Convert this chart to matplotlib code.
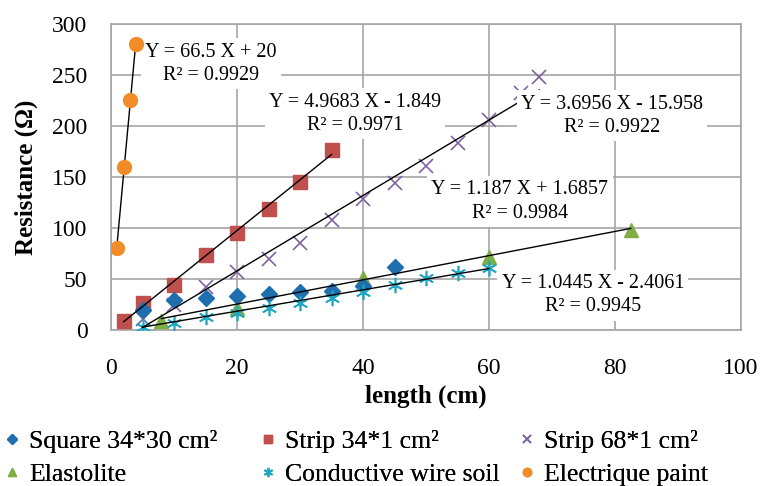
import matplotlib
matplotlib.use('Agg')
import matplotlib.pyplot as plt

plt.rcParams['font.family'] = ['Liberation Serif', 'DejaVu Serif']

# series data (length cm, resistance ohm)
square_x = [5, 10, 15, 20, 25, 30, 35, 40, 45]
square_y = [20, 29, 31, 33, 35, 37, 38.5, 43, 61.5]

strip34_x = [2, 5, 10, 15, 20, 25, 30, 35]
strip34_y = [9, 26, 44, 73.5, 95, 118.5, 145, 176.5]

strip68_x = [5, 10, 15, 20, 25, 30, 35, 40, 45, 50, 55, 60, 65, 68]
strip68_y = [11, 25, 42.5, 56.5, 70, 85, 108, 128.5, 144.5, 161, 183, 206, 232, 248]

elasto_x = [8, 20, 40, 60, 82.5]
elasto_y = [9, 22, 51, 72, 98]

wire_x = [5, 10, 15, 20, 25, 30, 35, 40, 45, 50, 55, 60]
wire_y = [3.3, 7.2, 13, 16.3, 21.2, 26.8, 31.7, 37, 44, 50.5, 55.6, 60.5]

paint_x = [1, 2, 3, 4]
paint_y = [80, 160, 225, 280]

# trendline coefficients and labels
trend_slope = [66.5, 4.9683, 3.6956, 1.187, 1.0445]
trend_icpt = [20, -1.849, -15.958, 1.6857, -2.4061]
trend_r2 = ['0.9929', '0.9971', '0.9922', '0.9984', '0.9945']
trend_text = ['Y = 66.5 X + 20', 'Y = 4.9683 X - 1.849', 'Y = 3.6956 X - 15.958',
              'Y = 1.187 X + 1.6857', 'Y = 1.0445 X - 2.4061']
trend_pos = [(15.9, 261), (38.7, 212), (79.5, 210), (64.9, 126), (76.5, 34)]

fig = plt.figure(figsize=(7.64, 4.86), dpi=100)
ax = fig.add_axes([111/764, 1-330/486, 630/764, 306/486])

h_sq = ax.plot(strip34_x, strip34_y, 's', color='#C0504D', ms=10, ls='none', zorder=3)[0]
h_68 = ax.plot(strip68_x, strip68_y, 'x', color='#8064A2', ms=10, mew=1.2, ls='none', zorder=3)[0]
h_el = ax.plot(elasto_x, elasto_y, '^', color='#7FAE45', ms=10, ls='none', zorder=3)[0]
h_sqr = ax.plot(square_x, square_y, 'D', color='#1F6FAE', ms=8, ls='none', zorder=3)[0]
h_w = ax.plot(wire_x, wire_y, marker=(6, 2, 0), color='#1FA7C4', ms=11, mew=1.2, ls='none', zorder=3)[0]
h_p = ax.plot(paint_x, paint_y, 'o', color='#F28C28', ms=10, ls='none', zorder=6)[0]

xs_list = [paint_x, strip34_x, strip68_x, elasto_x, wire_x]
for xs, a, b, t, r2, (tx, ty) in zip(xs_list, trend_slope, trend_icpt, trend_text, trend_r2, trend_pos):
    x0, x1 = min(xs), max(xs)
    ax.plot([x0, x1], [a*x0 + b, a*x1 + b], color='black', lw=1, zorder=4)
    ax.text(tx, ty, t + '\nR² = ' + r2, ha='center', va='center', fontsize=14.5,
            linespacing=1.3, zorder=5,
            bbox=dict(facecolor='white', edgecolor='none', pad=3))

ax.set_xlim(0, 100)
ax.set_ylim(0, 300)
ax.set_xticks(range(0, 101, 20))
ax.set_yticks(range(0, 301, 50))
ax.grid(True, color='#A6A6A6', lw=1.2)
ax.set_axisbelow(True)
for s in ax.spines.values():
    s.set_color('#A6A6A6')
    s.set_linewidth(1.2)
ax.tick_params(length=0, labelsize=17)
ax.tick_params(axis='x', pad=20)
ax.tick_params(axis='y', pad=17)
ax.set_xlabel('length (cm)', fontsize=18, fontweight='bold', labelpad=4)
ax.set_ylabel('Resistance (Ω)', fontsize=18, fontweight='bold', labelpad=10)

# legend: three columns of fixed width like the original
leg_cols = [([h_sqr, h_el], ['Square 34*30 cm²', 'Elastolite']),
            ([h_sq, h_w], ['Strip 34*1 cm²', 'Conductive wire soil']),
            ([h_68, h_p], ['Strip 68*1 cm²', 'Electrique paint'])]
leg_x = [2, 258, 517]
for (hs, ls), lx in zip(leg_cols, leg_x):
    lg = fig.legend(hs, ls, loc='upper left', bbox_to_anchor=(lx/764, 1 - 430/486),
                    bbox_transform=fig.transFigure, frameon=False, fontsize=18.5,
                    markerscale=0.6, handlelength=0.8, handletextpad=0.25,
                    labelspacing=0.38, borderpad=0, borderaxespad=0)
    fig.add_artist(lg)

fig.savefig('out.png', dpi=100)
